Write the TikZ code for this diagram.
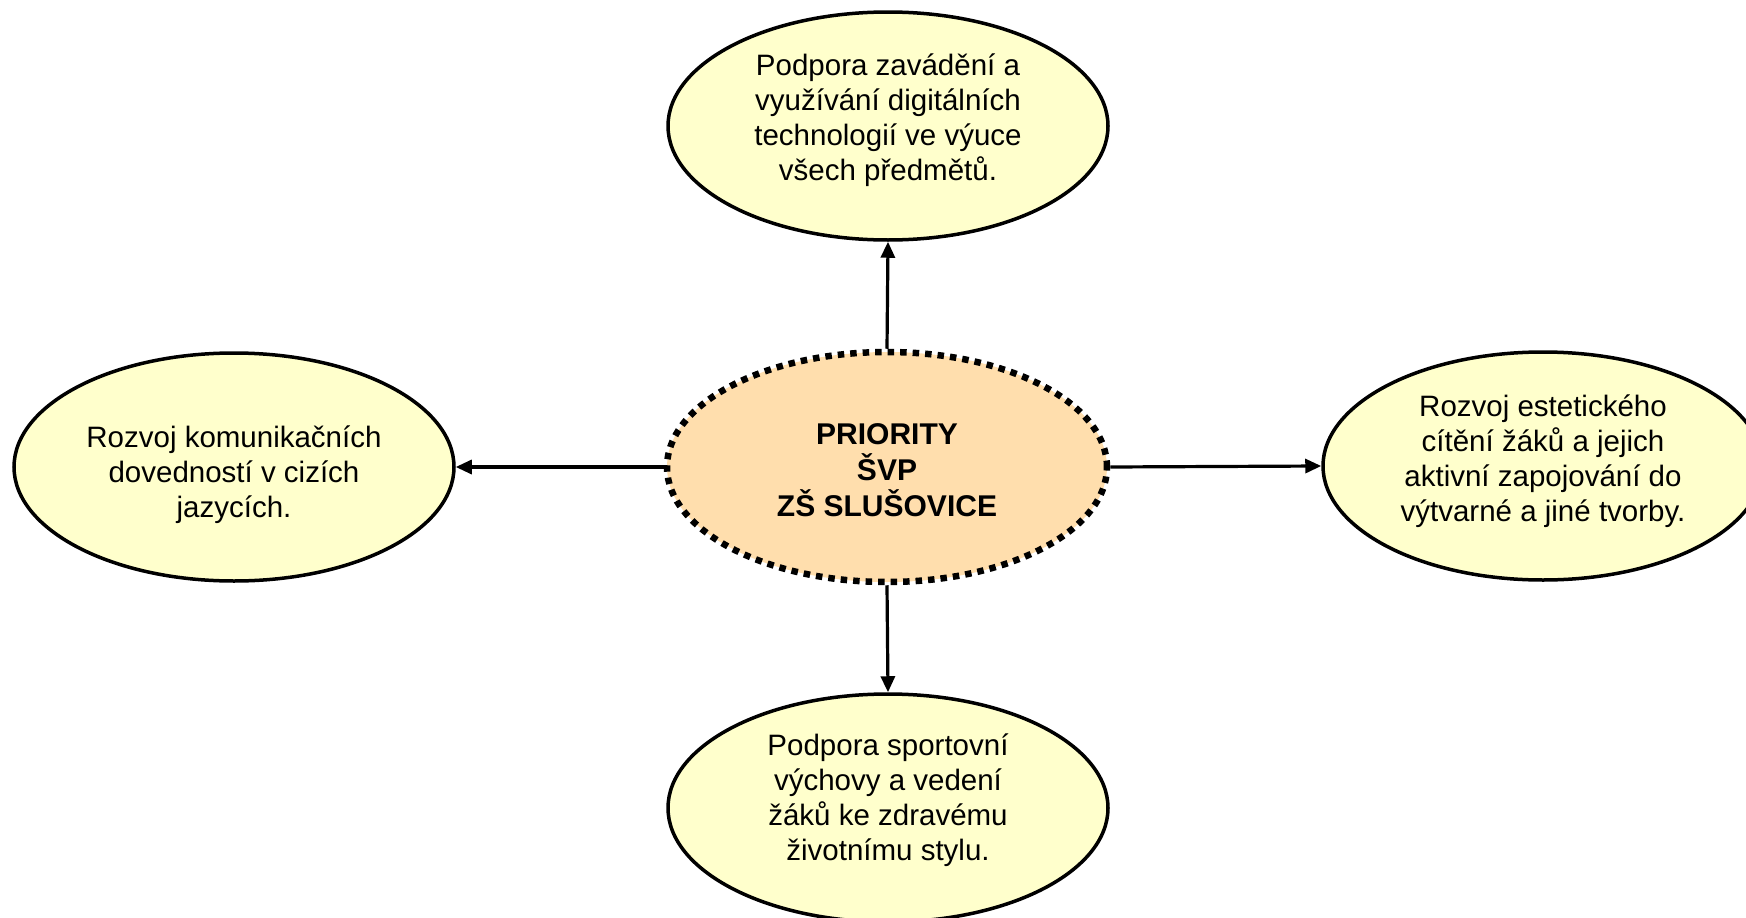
\documentclass[tikz,border=0pt]{standalone}
\usepackage{fontspec}
\setmainfont{Liberation Sans}
\usetikzlibrary{shapes.geometric,arrows.meta}
\definecolor{ovalfill}{HTML}{FFFFCC}
\definecolor{corefill}{HTML}{FFDEAD}
\begin{document}
\begin{tikzpicture}[x=1pt,y=-1pt,
  oval/.style={ellipse, draw, line width=3.5pt, fill=ovalfill, minimum width=440pt, minimum height=228pt, inner sep=0pt},
  core/.style={ellipse, draw, line width=6.5pt, dash pattern=on 6.5pt off 6pt, fill=corefill, minimum width=440pt, minimum height=230pt, inner sep=0pt},
  txt/.style={align=center, font=\fontsize{29.5}{35}\selectfont, inner sep=0pt},
  conn/.style={line width=3.2pt, -{Triangle[length=16pt,width=14pt]}}]
\useasboundingbox (0,0) rectangle (1746,918);
\begin{scope}
\clip (0,0) rectangle (1746,918);
\node[core] (c) at (887,467) {};
\node[oval] (t) at (888,126) {};
\node[oval] (l) at (234,467) {};
\node[oval] (r) at (1543,466) {};
\node[oval] (b) at (888,808) {};
\end{scope}
\node[txt, font=\fontsize{30}{36}\selectfont\bfseries] (ct) at (887,470) {PRIORITY\\ŠVP\\ZŠ SLUŠOVICE};
\node[txt] (tt) at (888,120) {Podpora zavádění a\\využívání digitálních\\technologií ve výuce\\všech předmětů.};
\node[txt] (lt) at (234,475) {Rozvoj komunikačních\\dovedností v cizích\\jazycích.};
\node[txt] (rt) at (1543,461) {Rozvoj estetického\\cítění žáků a jejich\\aktivní zapojování do\\výtvarné a jiné tvorby.};
\node[txt] (bt) at (888,800) {Podpora sportovní\\výchovy a vedení\\žáků ke zdravému\\životnímu stylu.};
\draw[conn] (c.north) -- (t.south);
\draw[conn] (c.south) -- (b.north);
\draw[conn] (c.west) -- (l.east);
\draw[conn] (c.east) -- (r.west);
\end{tikzpicture}
\end{document}
